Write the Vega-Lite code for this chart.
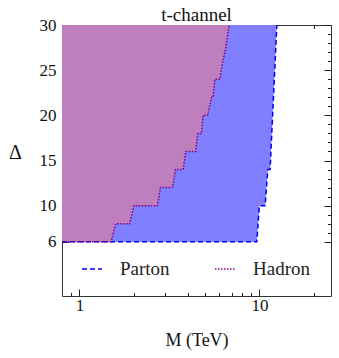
{
  "$schema": "https://vega.github.io/schema/vega-lite/v6.json",
  "width": 269,
  "height": 271,
  "autosize": {"type": "none"},
  "padding": {"left": 62, "top": 25, "right": 8, "bottom": 62},
  "background": "white",
  "title": {"text": "t-channel", "font": "Liberation Serif", "fontSize": 19, "fontWeight": "normal", "color": "#111", "offset": -9, "anchor": "middle"},
  "config": {
    "view": {"stroke": "#333", "strokeWidth": 1},
    "axis": {"grid": false, "domain": false, "tickColor": "#222", "tickWidth": 1, "labelFont": "Liberation Serif", "labelFontSize": 17, "labelColor": "#111", "titleFont": "Liberation Serif", "titleFontWeight": "normal", "titleColor": "#111"}
  },
  "data": {
    "values": [
      {"series": "Parton", "M": 0.8, "D": 6},
      {"series": "Parton", "M": 9.67, "D": 6},
      {"series": "Parton", "M": 10.0, "D": 10},
      {"series": "Parton", "M": 10.76, "D": 10},
      {"series": "Parton", "M": 11.14, "D": 14},
      {"series": "Parton", "M": 11.47, "D": 14},
      {"series": "Parton", "M": 12.5, "D": 30},
      {"series": "Hadron", "M": 0.8, "D": 6},
      {"series": "Hadron", "M": 1.5, "D": 6},
      {"series": "Hadron", "M": 1.59, "D": 8},
      {"series": "Hadron", "M": 1.9, "D": 8},
      {"series": "Hadron", "M": 2.01, "D": 10},
      {"series": "Hadron", "M": 2.71, "D": 10},
      {"series": "Hadron", "M": 2.82, "D": 12},
      {"series": "Hadron", "M": 3.29, "D": 12},
      {"series": "Hadron", "M": 3.42, "D": 14},
      {"series": "Hadron", "M": 3.77, "D": 14},
      {"series": "Hadron", "M": 3.9, "D": 16},
      {"series": "Hadron", "M": 4.42, "D": 16},
      {"series": "Hadron", "M": 4.55, "D": 18},
      {"series": "Hadron", "M": 4.77, "D": 18},
      {"series": "Hadron", "M": 4.87, "D": 20},
      {"series": "Hadron", "M": 5.15, "D": 20},
      {"series": "Hadron", "M": 5.43, "D": 22},
      {"series": "Hadron", "M": 5.53, "D": 22},
      {"series": "Hadron", "M": 5.66, "D": 24},
      {"series": "Hadron", "M": 6.04, "D": 24},
      {"series": "Hadron", "M": 6.25, "D": 26},
      {"series": "Hadron", "M": 6.44, "D": 27},
      {"series": "Hadron", "M": 6.8, "D": 30}
    ]
  },
  "layer": [
    {
      "transform": [{"filter": "datum.series == 'Parton'"}],
      "mark": {"type": "area", "fill": "#7f7fff", "clip": true},
      "encoding": {
        "x": {"field": "M", "type": "quantitative", "scale": {"type": "log", "domain": [0.8, 25], "nice": false},
          "axis": {"orient": "bottom", "values": [0.9, 1, 2, 3, 4, 5, 6, 7, 8, 9, 10, 20], "format": "~g",
            "labelExpr": "datum.value == 1 || datum.value == 10 ? datum.label : ''",
            "tickSize": {"condition": {"test": "datum.value == 1 || datum.value == 10", "value": -7}, "value": -3.5},
            "labelPadding": 8, "title": "M (TeV)", "titleFontSize": 18, "titlePadding": 18}},
        "y": {"field": "D", "type": "quantitative", "scale": {"domain": [0, 30], "nice": false},
          "axis": {"orient": "left", "values": [6, 7, 8, 9, 10, 11, 12, 13, 14, 15, 16, 17, 18, 19, 20, 21, 22, 23, 24, 25, 26, 27, 28, 29, 30],
            "labelExpr": "indexof([6, 10, 15, 20, 25, 30], datum.value) >= 0 ? datum.label : ''",
            "tickSize": {"condition": {"test": "indexof([6, 10, 15, 20, 25, 30], datum.value) >= 0", "value": -7}, "value": -3.5},
            "labelPadding": 13, "title": "Δ", "titleAngle": 0, "titleFontSize": 20, "titleX": -47, "titleY": 127, "titleAlign": "center", "titleBaseline": "middle"}},
        "y2": {"datum": 30}
      }
    },
    {
      "transform": [{"filter": "datum.series == 'Hadron'"}],
      "mark": {"type": "area", "fill": "#bf7fbf", "clip": true},
      "encoding": {
        "x": {"field": "M", "type": "quantitative", "axis": null},
        "y": {"field": "D", "type": "quantitative", "axis": null},
        "y2": {"datum": 30}
      }
    },
    {
      "mark": {"type": "line", "strokeWidth": 1.5, "clip": true},
      "encoding": {
        "x": {"field": "M", "type": "quantitative", "axis": null},
        "y": {"field": "D", "type": "quantitative", "axis": null},
        "color": {"field": "series", "type": "nominal", "scale": {"domain": ["Parton", "Hadron"], "range": ["#0000ff", "#800080"]},
          "legend": {"orient": "none", "legendX": 19, "legendY": 233, "direction": "horizontal", "title": null, "symbolType": "stroke", "symbolSize": 400, "symbolStrokeWidth": 1.5, "labelFont": "Liberation Serif", "labelFontSize": 19, "labelColor": "#222", "labelOffset": 17, "columnPadding": 42}},
        "strokeDash": {"field": "series", "type": "nominal", "scale": {"domain": ["Parton", "Hadron"], "range": [[5, 3], [1.5, 1.5]]},
          "legend": {"orient": "none", "legendX": 19, "legendY": 233, "direction": "horizontal", "title": null, "symbolType": "stroke", "symbolSize": 400, "symbolStrokeWidth": 1.5, "labelFont": "Liberation Serif", "labelFontSize": 19, "labelColor": "#222", "labelOffset": 17, "columnPadding": 42}},
        "detail": {"field": "series"}
      }
    },
    {
      "mark": {"type": "line", "opacity": 0},
      "encoding": {
        "x": {"field": "M", "type": "quantitative",
          "axis": {"orient": "top", "values": [0.9, 1, 2, 3, 4, 5, 6, 7, 8, 9, 10, 20], "labels": false, "title": null,
            "tickSize": {"condition": {"test": "datum.value == 1 || datum.value == 10", "value": -7}, "value": -3.5}}},
        "y": {"field": "D", "type": "quantitative",
          "axis": {"orient": "right", "values": [6, 7, 8, 9, 10, 11, 12, 13, 14, 15, 16, 17, 18, 19, 20, 21, 22, 23, 24, 25, 26, 27, 28, 29, 30], "labels": false, "title": null,
            "tickSize": {"condition": {"test": "indexof([6, 10, 15, 20, 25, 30], datum.value) >= 0", "value": -7}, "value": -3.5}}},
        "detail": {"field": "series"}
      }
    }
  ],
  "resolve": {"axis": {"x": "independent", "y": "independent"}}
}
